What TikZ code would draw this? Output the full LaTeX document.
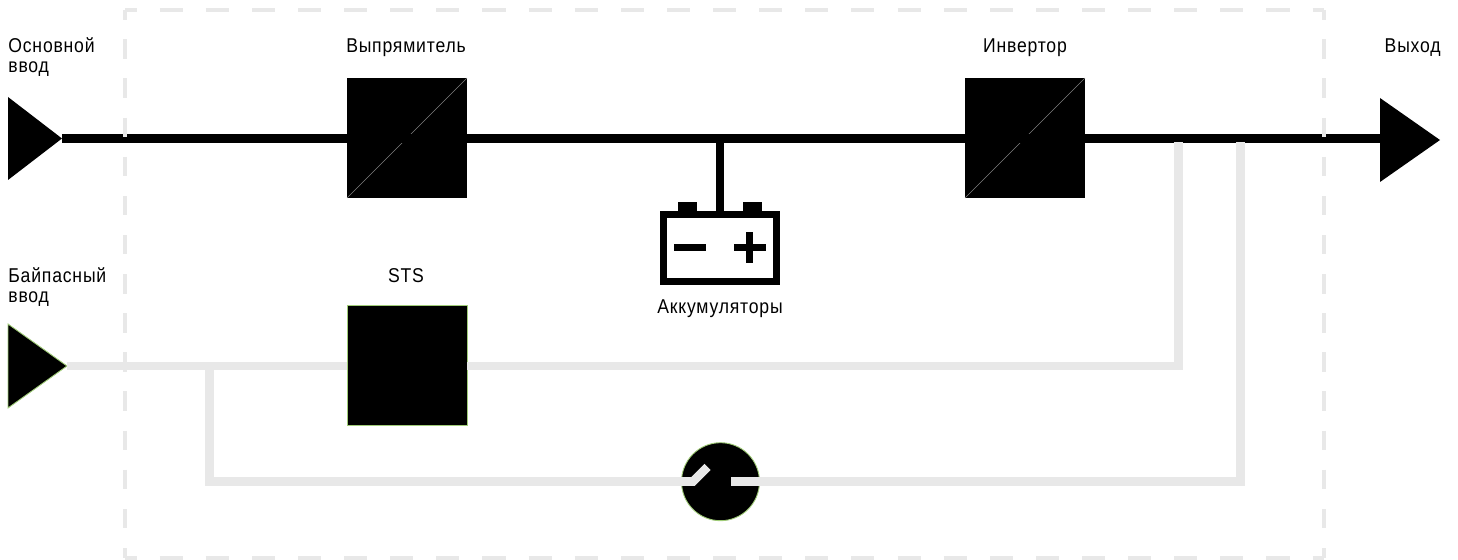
\documentclass[tikz,border=0pt]{standalone}
\usepackage{fontspec}
\setmainfont[FakeStretch=0.88,LetterSpace=4]{Liberation Sans}
\definecolor{lightline}{HTML}{E8E8E8}
\definecolor{edgegreen}{HTML}{A0CC78}
\begin{document}
\begin{tikzpicture}[x=0.5pt,y=-0.5pt,
  lbl/.style={inner sep=0pt,font=\fontsize{10}{10}\selectfont,text=black},
  multilbl/.style={lbl,align=left,anchor=north west},
  mainline/.style={line width=4.4pt,draw=black},
  altline/.style={line width=4.4pt,draw=lightline},
  frameV/.style={draw=lightline,line width=2pt,dash pattern=on 9.78pt off 9.78pt,dash phase=4.89pt},
  frameH/.style={draw=lightline,line width=2pt,dash pattern=on 11.53pt off 11.53pt,dash phase=5.76pt},
  blackbox/.style={fill=black,minimum size=60pt,inner sep=0pt,outer sep=0pt},
  greenedge/.style={draw=edgegreen,line width=0.45pt},
  thin diag/.style={draw=black!50,line width=0.3pt},
  batt/.style={draw=black,line width=3.7pt}]
\useasboundingbox (0,0) rectangle (1458,560);
% named points
\coordinate (inTip) at (62,138.5);
\coordinate (outBase) at (1382,138.5);
\coordinate (byTip) at (67,366);
\node[blackbox] (rect) at (407,138) {};
\node[blackbox] (inv) at (1025,138) {};
\node[blackbox,greenedge,fill=black] (sts) at (407,365.5) {};
\coordinate (battTop) at (720,211);
\coordinate (stem) at (720,138.5);
\coordinate (tapA) at (1178.5,142);
\coordinate (tapB) at (1240.5,142);
\coordinate (cornerA) at (1178.5,366);
\coordinate (cornerB) at (1240.5,481.5);
\coordinate (branch) at (209.5,366);
\coordinate (cornerC) at (209.5,481.5);
\coordinate (swL) at (693,481.5);
\coordinate (swBlade) at (707.5,467);
\coordinate (swR) at (731,481.5);
\node[circle,fill=black,greenedge,minimum size=39pt,inner sep=0pt] (sw) at (720.5,481.7) {};
% converter diagonals
\draw[thin diag] (rect.south west) -- (rect.north east);
\draw[thin diag] (inv.south west) -- (inv.north east);
% main black line
\draw[mainline] (inTip) -- (outBase);
\draw[line width=4pt,draw=black] (stem) -- (battTop);
% triangles
\fill[black] (8,97) -- (8,180) -- (inTip) -- cycle;
\fill[black] (1380,98) -- (1380,182) -- (1440,140) -- cycle;
\path[fill=black,greenedge] (8,324) -- (8,408) -- (byTip) -- cycle;
% grey lines
\draw[altline] (byTip) -- (sts.west |- byTip);
\draw[altline] (sts.east |- byTip) -- (cornerA) -- (tapA);
\draw[altline] (branch) -- (cornerC) -- (swL) -- (swBlade);
\draw[altline] (swR) -- (cornerB) -- (tapB);
% battery
\draw[batt,fill=white] (663.7,214.7) rectangle (776.3,281.5);
\fill[black] (678,202) rectangle (697,211);
\fill[black] (743,202) rectangle (762,211);
\fill[black] (674,243.7) rectangle (706,250.7);
\fill[black] (734,243.7) rectangle (766,250.7);
\fill[black] (746,232) rectangle (753,263);
% dashed frame
\draw[frameV] (125,10) -- (125,558.5);
\draw[frameV] (1324,10) -- (1324,558.5);
\draw[frameH] (125,10.5) -- (1324,10.5);
\draw[frameH] (125,558.5) -- (1324,558.5);
% labels
\node[multilbl] (l1) at (8,37) {Основной\\ввод};
\node[multilbl] (l2) at (8,267) {Байпасный\\ввод};
\node[lbl,anchor=base] (l3) at (406,53) {Выпрямитель};
\node[lbl,anchor=base] (l4) at (1025,53) {Инвертор};
\node[lbl,anchor=base east] (l5) at (1441,53) {Выход};
\node[lbl,anchor=base] (l6) at (406,283) {STS};
\node[lbl,anchor=base] (l7) at (720,314) {Аккумуляторы};
\end{tikzpicture}
\end{document}
